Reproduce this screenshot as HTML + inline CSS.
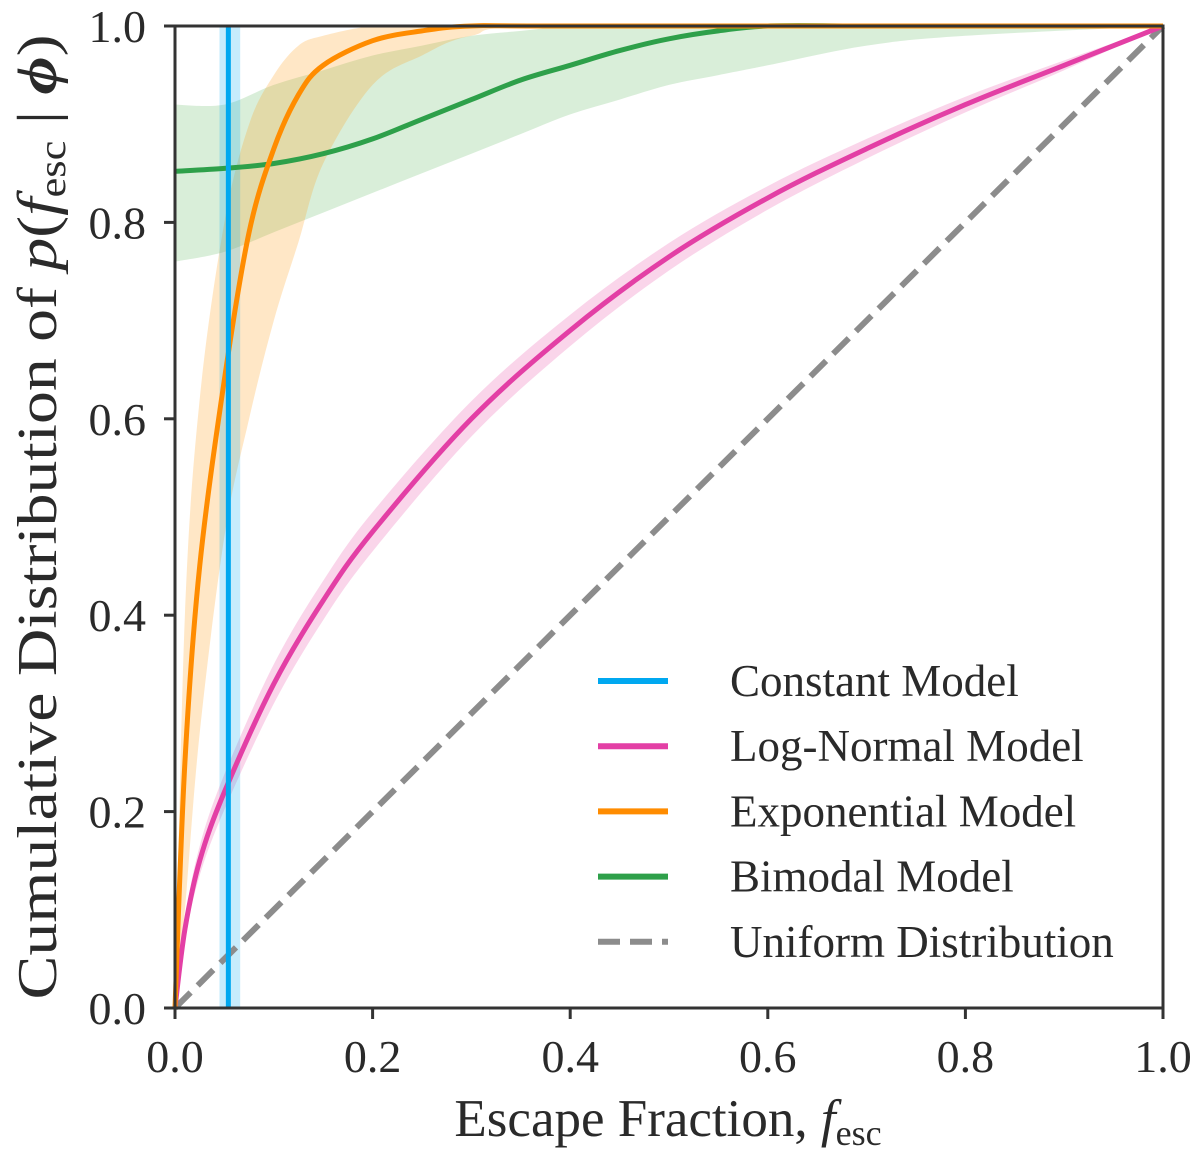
<!DOCTYPE html>
<html><head><meta charset="utf-8"><style>
html,body{margin:0;padding:0;background:#fff;}
svg{display:block;}
text{font-family:"Liberation Serif",serif;fill:#2a2a2a;}
</style></head><body>
<svg id="chart" width="1200" height="1151" viewBox="0 0 1200 1151">
<g id="bands"></g><g id="lines"></g><g id="axes"></g><g id="legend"></g>
</svg>
<script>
const xTicks=[0,0.2,0.4,0.6,0.8,1.0];
const yTicks=[0,0.2,0.4,0.6,0.8,1.0];
const tickLabels=["0.0","0.2","0.4","0.6","0.8","1.0"];
const lnX=[0,0.01,0.025,0.05,0.1,0.15,0.2,0.3,0.4,0.5,0.6,0.7,0.8,0.9,1.0];
const lnY=[0,0.08,0.15,0.22,0.33,0.415,0.485,0.60,0.69,0.765,0.825,0.875,0.92,0.96,1.0];
const lnBand=[0,0.01,0.015,0.018,0.02,0.02,0.02,0.018,0.016,0.014,0.012,0.01,0.008,0.005,0];
const exX=[0,0.01,0.025,0.05,0.075,0.1,0.125,0.15,0.2,0.25,0.3,0.4,1.0];
const exY=[0,0.25,0.45,0.64,0.79,0.875,0.93,0.96,0.985,0.995,1.0,1.0,1.0];
const exLo=[0,0.1,0.28,0.48,0.6,0.7,0.78,0.86,0.94,0.97,0.99,1.0,1.0];
const exHi=[0,0.4,0.62,0.8,0.9,0.95,0.98,0.99,1.0,1.0,1.0,1.0,1.0];
const biX=[0,0.05,0.1,0.15,0.2,0.25,0.3,0.35,0.4,0.45,0.5,0.55,0.6,0.7,0.8,1.0];
const biY=[0.852,0.855,0.86,0.87,0.885,0.905,0.925,0.945,0.96,0.975,0.987,0.995,1.0,1.0,1.0,1.0];
const biLo=[0.76,0.77,0.79,0.81,0.83,0.85,0.87,0.89,0.91,0.925,0.94,0.95,0.96,0.98,0.99,1.0];
const biHi=[0.92,0.92,0.94,0.955,0.97,0.98,0.99,0.995,1.0,1.0,1.0,1.0,1.0,1.0,1.0,1.0];
const constVal=0.054, constLo=0.045, constHi=0.066;
const legendLabels=["Constant Model","Log-Normal Model","Exponential Model","Bimodal Model","Uniform Distribution"];
const X0=175,X1=1163,Y0=1008,Y1=26;
const sx=v=>X0+(X1-X0)*v, sy=v=>Y0-(Y0-Y1)*v;
const NS="http://www.w3.org/2000/svg";
function mk(tag,attrs,parent){const e=document.createElementNS(NS,tag);for(const k in attrs)e.setAttribute(k,attrs[k]);parent.appendChild(e);return e;}
const bands=document.getElementById('bands'),lines=document.getElementById('lines'),axes=document.getElementById('axes'),legend=document.getElementById('legend');
function smooth(xs,ys,start){
 const p=xs.map((x,i)=>[sx(x),sy(ys[i])]);
 let d=(start?start:'M')+p[0][0].toFixed(1)+','+p[0][1].toFixed(1);
 for(let i=0;i<p.length-1;i++){
  const p0=p[Math.max(0,i-1)],p1=p[i],p2=p[i+1],p3=p[Math.min(p.length-1,i+2)];
  const c1=[p1[0]+(p2[0]-p0[0])/6,p1[1]+(p2[1]-p0[1])/6];
  const c2=[p2[0]-(p3[0]-p1[0])/6,p2[1]-(p3[1]-p1[1])/6];
  d+=' C'+c1.map(v=>v.toFixed(1)).join(',')+' '+c2.map(v=>v.toFixed(1)).join(',')+' '+p2[0].toFixed(1)+','+p2[1].toFixed(1);
 }
 return d;
}
function bandPath(xs,lo,hi){return smooth(xs,hi)+' '+smooth(xs.slice().reverse(),lo.slice().reverse(),'L')+'Z';}
let b;
b=mk('path',{d:bandPath(biX,biLo,biHi),fill:'#2ca02c','fill-opacity':0.18},bands);

b=mk('path',{d:bandPath(exX,exLo,exHi),fill:'#ff9e1b','fill-opacity':0.25},bands);

b=mk('path',{d:bandPath(lnX,lnY.map((v,i)=>v-lnBand[i]),lnY.map((v,i)=>Math.min(1,v+lnBand[i]))),fill:'#e83fa0','fill-opacity':0.22},bands);

b=mk('rect',{x:sx(constLo),y:Y1,width:sx(constHi)-sx(constLo),height:Y0-Y1,fill:'#00a8f0','fill-opacity':0.22},bands);

let l;
l=mk('line',{x1:sx(0),y1:sy(0),x2:sx(1),y2:sy(1),stroke:'#8c8c8c','stroke-width':6,'stroke-dasharray':'22,10'},lines);

l=mk('path',{d:smooth(biX,biY),fill:'none',stroke:'#2ea04a','stroke-width':5},lines);

l=mk('path',{d:smooth(lnX,lnY),fill:'none',stroke:'#e33fa5','stroke-width':5},lines);

l=mk('path',{d:smooth(exX,exY),fill:'none',stroke:'#ff8c00','stroke-width':5},lines);

l=mk('line',{x1:sx(constVal),y1:Y1,x2:sx(constVal),y2:Y0,stroke:'#00a8f0','stroke-width':5},lines);

let f=mk('rect',{x:X0,y:Y1,width:X1-X0,height:Y0-Y1,fill:'none',stroke:'#333','stroke-width':3},axes);

xTicks.forEach((v,i)=>{
 let t=mk('line',{x1:sx(v),y1:Y0,x2:sx(v),y2:Y0+11,stroke:'#333','stroke-width':3},axes);
 
 let tx=mk('text',{x:sx(v),y:1072,'font-size':46,'text-anchor':'middle'},axes);tx.textContent=tickLabels[i];
 
});
yTicks.forEach((v,i)=>{
 let t=mk('line',{x1:X0-11,y1:sy(v),x2:X0,y2:sy(v),stroke:'#333','stroke-width':3},axes);
 
 let tx=mk('text',{x:146,y:sy(v)+16,'font-size':46,'text-anchor':'end'},axes);tx.textContent=tickLabels[i];
 
});
const colors=['#00a8f0','#e33fa5','#ff8c00','#2ea04a','#8c8c8c'];
legendLabels.forEach((lab,i)=>{
 const y=681+i*65.2;
 let ln=mk('line',{x1:598,y1:y,x2:668,y2:y,stroke:colors[i],'stroke-width':6},legend);
 if(i==4)ln.setAttribute('stroke-dasharray','22,10');
 
 let tx=mk('text',{x:730,y:y+15,'font-size':45},legend);tx.textContent=lab;
 
});
</script>
<svg style="position:absolute;left:0;top:0" width="1200" height="1151">
<text x="668" y="1136" font-size="53" text-anchor="middle">Escape Fraction, <tspan font-style="italic">f</tspan><tspan font-size="36" dy="9">esc</tspan></text>
<text transform="translate(56,517) rotate(-90)" font-size="56" text-anchor="middle" textLength="965" lengthAdjust="spacingAndGlyphs">Cumulative Distribution of <tspan font-style="italic">p</tspan>(<tspan font-style="italic">f</tspan><tspan font-size="38" dy="9">esc</tspan><tspan dy="-9"> | </tspan><tspan font-style="italic" font-weight="bold">ϕ</tspan>)</text>
</svg>
</body></html>
